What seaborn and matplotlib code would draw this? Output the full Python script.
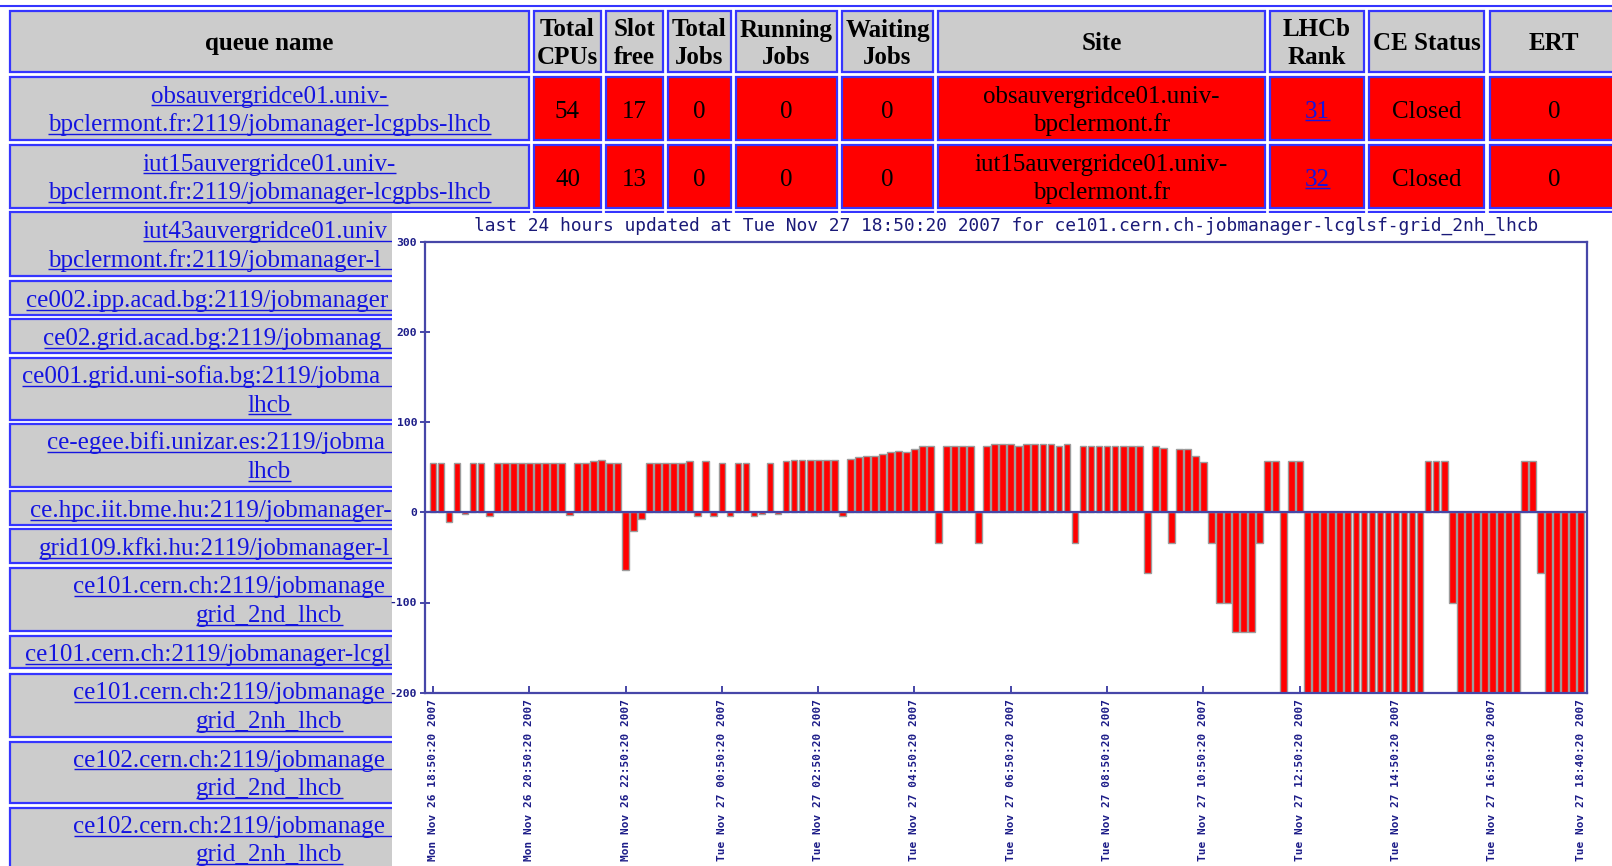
import numpy as np
import pandas as pd
import matplotlib
matplotlib.use("Agg")
import matplotlib.pyplot as plt
from matplotlib.patches import Rectangle
import seaborn as sns

# ------------------------------------------------------------------ data
header_labels = ["queue name", "Total\nCPUs", "Slot\nfree", "Total\nJobs",
                 "Running\nJobs", "Waiting\nJobs", "Site", "LHCb\nRank",
                 "CE Status", "ERT"]
queue_names = [
    "obsauvergridce01.univ-\nbpclermont.fr:2119/jobmanager-lcgpbs-lhcb",
    "iut15auvergridce01.univ-\nbpclermont.fr:2119/jobmanager-lcgpbs-lhcb",
    "iut43auvergridce01.univ-\nbpclermont.fr:2119/jobmanager-lcgpbs-lhcb",
    "ce002.ipp.acad.bg:2119/jobmanager-lcgpbs-lhcb",
    "ce02.grid.acad.bg:2119/jobmanager-pbs-lhcb",
    "ce001.grid.uni-sofia.bg:2119/jobmanager-lcgpbs-\nlhcb",
    "ce-egee.bifi.unizar.es:2119/jobmanager-pbs-\nlhcb",
    "ce.hpc.iit.bme.hu:2119/jobmanager-lcgpbs-lhcb",
    "grid109.kfki.hu:2119/jobmanager-lcgpbs-lhcb",
    "ce101.cern.ch:2119/jobmanager-lcglsf-\ngrid_2nd_lhcb",
    "ce101.cern.ch:2119/jobmanager-lcglsf-grid_lhcb",
    "ce101.cern.ch:2119/jobmanager-lcglsf-\ngrid_2nh_lhcb",
    "ce102.cern.ch:2119/jobmanager-lcglsf-\ngrid_2nd_lhcb",
    "ce102.cern.ch:2119/jobmanager-lcglsf-\ngrid_2nh_lhcb",
]
total_cpus = [54, 40]
slot_free = [17, 13]
total_jobs = [0, 0]
running_jobs = [0, 0]
waiting_jobs = [0, 0]
site_names = ["obsauvergridce01.univ-\nbpclermont.fr",
              "iut15auvergridce01.univ-\nbpclermont.fr"]
lhcb_rank = [31, 32]
ce_status = ["Closed", "Closed"]
ert = [0, 0]

chart_title = ("last 24 hours updated at Tue Nov 27 18:50:20 2007 "
               "for ce101.cern.ch-jobmanager-lcglsf-grid_2nh_lhcb")
slot_values = [
    55, 55, -11, 55, -2, 55, 55, -4,
    55, 55, 55, 55, 55, 55, 55, 55, 55,
    -3, 55, 55, 57, 58, 55, 55,
    -64, -21, -7,
    55, 55, 55, 55, 55, 57,
    -4, 57, -4, 55, -4, 55, 55, -4, -2, 55, -2,
    57, 58, 58, 58, 58, 58, 58,
    -4, 59, 61, 62, 62, 65, 67, 68, 67, 70, 74, 74,
    -34, 74, 74, 74, 74, -34,
    74, 76, 76, 76, 74, 76, 76, 76, 76, 74, 76,
    -34, 74, 74, 73, 73, 74, 74, 73, 73,
    -67, 73, 71, -34, 70, 70, 62, 56,
    -34, -100, -100, -133, -133, -133, -34,
    57, 57, -200, 57, 57,
    -200, -200, -200, -200, -200, -200, -200, -200, -200, -200, -200, -200, -200, -200, -200,
    57, 57, 57, -100,
    -200, -200, -200, -200, -200, -200, -200, -200,
    57, 57, -67,
    -200, -200, -200, -200, -200,
]
tick_slots = [0, 12, 24, 36, 48, 60, 72, 84, 96, 108, 120, 132, 143]
tick_labels = [
    "Mon Nov 26 18:50:20 2007", "Mon Nov 26 20:50:20 2007",
    "Mon Nov 26 22:50:20 2007", "Tue Nov 27 00:50:20 2007",
    "Tue Nov 27 02:50:20 2007", "Tue Nov 27 04:50:20 2007",
    "Tue Nov 27 06:50:20 2007", "Tue Nov 27 08:50:20 2007",
    "Tue Nov 27 10:50:20 2007", "Tue Nov 27 12:50:20 2007",
    "Tue Nov 27 14:50:20 2007", "Tue Nov 27 16:50:20 2007",
    "Tue Nov 27 18:40:20 2007",
]
y_ticks = [-200, -100, 0, 100, 200, 300]

# ------------------------------------------------------------------ style / layout
W, H = 1612, 866
BORDER = "#3535ff"
GRAY = "#cccccc"
RED = "#ff0000"
LINK = "#1414e0"
AXC = "#4646a8"
TXC = "#1c1c88"
SERIF = "Liberation Serif"
MONO = "DejaVu Sans Mono"
FS = 18
PANEL_X, PANEL_Y = 392, 213

cols = [(10, 529), (534, 601), (606, 663), (668, 731), (736, 837),
        (842, 933), (938, 1265), (1270, 1364), (1369, 1484), (1490, 1618)]
rows = [(77, 140), (145, 208), (212, 276), (281, 315), (319, 353),
        (358, 420), (424, 487), (491, 525), (529, 563), (568, 631),
        (636, 668), (674, 737), (742, 803), (808, 870)]
header_row = (11, 72)

sns.set_style("white")
plt.rcParams["font.family"] = [SERIF, "DejaVu Sans"]

fig = plt.figure(figsize=(W / 100, H / 100), dpi=100)
bg = fig.add_axes([0, 0, 1, 1])
bg.set_xlim(0, W)
bg.set_ylim(H, 0)
bg.axis("off")
rend = fig.canvas.get_renderer()

bg.plot([0, W], [6, 6], color=BORDER, lw=1.5, solid_capstyle="butt")


def cell(c, r, face):
    x0, x1 = c
    y0, y1 = r
    bg.add_patch(Rectangle((x0, y0), x1 - x0, y1 - y0, facecolor=face,
                           edgecolor=BORDER, lw=1.6, zorder=1))


def text_width(s, bold=False):
    t = bg.text(0, 0, s, fontsize=FS, family=SERIF,
                fontweight="bold" if bold else "normal")
    w = t.get_window_extent(rend).width
    t.remove()
    return w


def underline(x0, x1, b, color):
    bg.plot([x0, x1], [b + 2.5, b + 2.5], color=color, lw=1.0, zorder=3,
            solid_capstyle="butt")


def put(text, c, r, bold=False, color="black", link=False, header=False):
    lines = text.split("\n")
    xc = (c[0] + c[1]) / 2
    yc = (r[0] + r[1]) / 2
    if len(lines) == 1:
        bases = [yc + (9 if not header else 8.5)]
    else:
        if header:
            bases = [yc - 5, yc + 23]
        else:
            bases = [yc - 6, yc + 22.5]
    for ln, b in zip(lines, bases):
        w = text_width(ln, bold)
        x_start = xc - w / 2
        shown = ln
        if b > PANEL_Y and x_start + w > PANEL_X:
            # only the characters that are visible left of the chart panel
            n = len(ln)
            while n > 0 and x_start + text_width(ln[:n], bold) > PANEL_X:
                n -= 1
            shown = ln[:n]
        bg.text(x_start, b, shown, ha="left", va="baseline", fontsize=FS,
                family=SERIF, fontweight="bold" if bold else "normal",
                color=color, zorder=3)
        if link:
            underline(x_start, x_start + w, b, color)


# header
for c, lab in zip(cols, header_labels):
    cell(c, header_row, GRAY)
    put(lab, c, header_row, bold=True, header=True)

# data rows
for i, r in enumerate(rows):
    cell(cols[0], r, GRAY)
    put(queue_names[i], cols[0], r, color=LINK, link=True)
    if i < 3:
        for c in cols[1:]:
            cell(c, r, RED)
    if i < 2:
        vals = [total_cpus[i], slot_free[i], total_jobs[i], running_jobs[i],
                waiting_jobs[i], site_names[i], lhcb_rank[i], ce_status[i], ert[i]]
        for k, (c, v) in enumerate(zip(cols[1:], vals)):
            if k == 6:
                put(str(v), c, r, color=LINK, link=True)
            else:
                put(str(v), c, r)

# white chart panel covering the lower table
bg.add_patch(Rectangle((PANEL_X, PANEL_Y), W - PANEL_X + 20, H - PANEL_Y + 20,
                       facecolor="white", edgecolor="none", zorder=20))

# ------------------------------------------------------------------ chart
ax_l, ax_r, ax_t, ax_b = 425.5, 1587, 241.7, 692.7
ax = fig.add_axes([ax_l / W, (H - ax_b) / H, (ax_r - ax_l) / W, (ax_b - ax_t) / H])
ax.set_zorder(30)

df = pd.DataFrame({"slot": np.arange(len(slot_values)), "value": slot_values})
sns.barplot(data=df, x="slot", y="value", native_scale=True, color=RED,
            saturation=1, width=0.84, errorbar=None, edgecolor="#9c9c9c",
            linewidth=1.0, ax=ax)
ax.axhline(0, color=AXC, lw=1.6, zorder=5)

ax.set_xlim(-0.93, 143.8)
ax.set_ylim(-200, 300)
ax.set_xlabel("")
ax.set_ylabel("")
for s in ax.spines.values():
    s.set_color(AXC)
    s.set_linewidth(1.6)
    s.set_visible(True)

ax.set_yticks(y_ticks)
ax.set_yticklabels([str(v) for v in y_ticks], family=MONO, fontweight="bold",
                   fontsize=8.2, color=TXC)
ax.set_xticks(tick_slots)
ax.set_xticklabels(tick_labels, family=MONO, fontweight="bold", fontsize=8.0,
                   color=TXC, rotation=90, va="top", ha="center")
ax.tick_params(axis="y", direction="inout", length=7, width=1.4, colors=AXC,
               pad=2.5, left=True)
ax.tick_params(axis="x", direction="in", length=5, width=1.4, colors=AXC,
               pad=4.5, bottom=True)
for lab in ax.get_xticklabels() + ax.get_yticklabels():
    lab.set_color(TXC)

fig.text((ax_l + ax_r) / 2 / W, 1 - 226 / H, chart_title, ha="center",
         va="center", family=MONO, fontsize=12.85, color="#1a1a78", zorder=40)

fig.savefig("out.png", dpi=100)
